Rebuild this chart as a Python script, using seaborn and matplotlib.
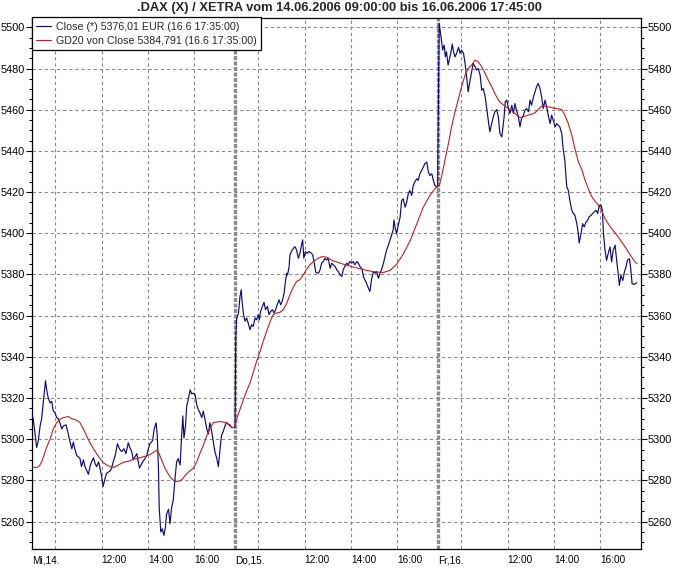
import matplotlib
matplotlib.use("Agg")
import matplotlib.pyplot as plt
import pandas as pd
import seaborn as sns
from matplotlib.ticker import MultipleLocator

# ---------------- texts ----------------
title = ".DAX (X) / XETRA vom 14.06.2006 09:00:00 bis 16.06.2006 17:45:00"
day_labels = ["Mi,14.", "Do,15.", "Fr,16."]
hour_labels = ["12:00", "14:00", "16:00"]
label_hours = [12, 14, 16]
grid_hours = [10, 12, 14, 16]
open_hour = 9.0
session_hours = 8.75          # 09:00 - 17:45
close_label = "Close (*) 5376,01 EUR (16.6 17:35:00)"
gd_label = "GD20 von Close 5384,791 (16.6 17:35:00)"

# ---------------- Close, minutes after 09:00 ----------------
mi14_min = [0, 3, 8, 12, 16, 21, 25, 29, 35, 38,
            42, 47, 51, 55, 59, 64, 68, 72, 77, 81,
            88, 92, 98, 103, 107, 111, 116, 120, 124, 128,
            133, 137, 141, 146, 150, 154, 159, 163, 167, 172,
            176, 180, 184, 189, 193, 202, 206, 210, 215, 221,
            226, 232, 238, 243, 249, 253, 258, 262, 266, 271,
            278, 284, 290, 297, 301, 305, 312, 316, 321, 324,
            327, 329, 333, 337, 341, 345, 348, 353, 357, 361,
            365, 370, 374, 378, 383, 387, 390, 393, 397, 400,
            404, 409, 413, 417, 422, 426, 430, 434, 439, 443,
            447, 452, 456, 460, 465, 469, 473, 478, 482, 486,
            490, 495, 499, 503, 508, 512, 516, 521]
mi14_close = [5312, 5310, 5302.5, 5296, 5299, 5306.5, 5310, 5317.6, 5328.4, 5324,
              5320, 5317.6, 5318.4, 5313.7, 5313, 5310.5, 5310, 5308, 5305, 5306.5,
              5307, 5304, 5299, 5295.4, 5298.6, 5295, 5292, 5291.4, 5290.6, 5286.7,
              5290, 5286.7, 5285, 5283, 5286.7, 5289, 5291, 5288.3, 5286.7, 5289,
              5285.9, 5282, 5277.1, 5281, 5283.5, 5284.6, 5286, 5289, 5292, 5297.8,
              5295.4, 5294, 5295.4, 5293, 5298.3, 5296, 5294, 5290, 5291.4, 5293,
              5286, 5288.3, 5290, 5292.2, 5295.4, 5297.8, 5299.4, 5305, 5308, 5301.7,
              5286, 5266.8, 5255, 5256.5, 5253.3, 5257.3, 5263.6, 5266, 5259, 5266.8,
              5270, 5281.1, 5289, 5290.6, 5287.5, 5301.7, 5311.3, 5300.6, 5306.5, 5316,
              5319.2, 5324, 5322, 5322.4, 5321.6, 5316.8, 5314.4, 5313, 5310.5, 5313.7,
              5310, 5305, 5302.5, 5308, 5303.4, 5298.6, 5294, 5290.6, 5286.7, 5294.6,
              5301.7, 5304, 5306.5, 5308, 5307.3, 5307, 5305.7, 5305.7]

do15_min = [0, 2, 4, 9, 13, 16, 18, 22, 26, 30,
            34, 39, 43, 47, 52, 56, 60, 63, 66, 71,
            75, 79, 84, 88, 92, 97, 101, 105, 109, 114,
            118, 122, 127, 131, 134, 136, 140, 142, 147, 151,
            155, 159, 164, 168, 172, 175, 178, 182, 187, 191,
            196, 201, 205, 209, 216, 220, 224, 228, 233, 237,
            241, 246, 250, 254, 259, 263, 267, 272, 276, 280,
            284, 289, 293, 297, 302, 306, 310, 315, 319, 323,
            328, 332, 336, 340, 345, 349, 353, 358, 362, 366,
            371, 375, 379, 384, 388, 392, 397, 401, 405, 409,
            411, 415, 418, 422, 427, 431, 435, 440, 444, 448,
            452, 457, 461, 465, 470, 474, 478, 483, 487, 491,
            496, 500, 504, 509, 513, 517, 522, 524]
do15_close = [5305.6, 5348.4, 5358, 5361.3, 5369.4, 5372.6, 5367.7, 5360.5, 5357.3, 5358.9,
              5356.5, 5353.2, 5355.6, 5354.8, 5358.9, 5358, 5360.5, 5358, 5362, 5364.5,
              5366.5, 5362.9, 5364.5, 5360.5, 5362, 5362.9, 5361.3, 5362.9, 5365.3, 5367.7,
              5365.3, 5367, 5371, 5377.4, 5380.6, 5379.8, 5383.9, 5389.5, 5391.6, 5392.7,
              5393.5, 5392, 5387.9, 5390.3, 5394.4, 5396.8, 5387.9, 5391.1, 5390.3, 5391.1,
              5390.6, 5389.5, 5385.5, 5381, 5380.6, 5382.3, 5385.5, 5386.3, 5387.9, 5387,
              5387.9, 5383, 5385.5, 5384.7, 5383.9, 5382.3, 5381.5, 5379.8, 5379, 5382.3,
              5383.9, 5385.5, 5384.7, 5386.3, 5385.5, 5386.3, 5384.7, 5386.3, 5385.5, 5383.9,
              5383, 5379, 5377.4, 5375.8, 5373.4, 5371.8, 5377.4, 5381.5, 5380.6, 5381.5,
              5378.2, 5380.6, 5382.3, 5385.5, 5388.7, 5391.9, 5394.4, 5396.8, 5399.2, 5401.6,
              5406.5, 5402, 5399.7, 5403.7, 5407.8, 5416, 5416.7, 5412.7, 5415.1, 5419.2,
              5420.8, 5418.4, 5423.3, 5424.9, 5426.5, 5425.7, 5428.9, 5430.6, 5432.2, 5433.8,
              5434.6, 5429.8, 5428.1, 5428.9, 5425.7, 5423.3, 5422.4, 5423]

fr16_min = [3, 9, 12, 16, 19, 22, 26, 29, 33, 37,
            40, 44, 48, 53, 57, 61, 66, 70, 74, 78,
            83, 87, 91, 96, 100, 104, 109, 113, 117, 122,
            126, 130, 134, 139, 143, 147, 152, 156, 160, 165,
            167, 171, 174, 178, 182, 186, 191, 195, 199, 203,
            208, 212, 216, 221, 225, 229, 234, 238, 242, 247,
            251, 255, 259, 264, 268, 272, 277, 281, 285, 290,
            294, 298, 303, 307, 311, 315, 320, 324, 328, 333,
            337, 341, 346, 350, 354, 359, 363, 365, 370, 374,
            378, 383, 387, 391, 396, 400, 404, 409, 413, 417,
            422, 425, 428, 432, 436, 440, 445, 449, 453, 458,
            462, 466, 469, 473, 478, 482, 486, 490, 495, 498,
            502, 507, 514]
fr16_close = [5502, 5493.8, 5489, 5491.4, 5485.7, 5488.2, 5481.7, 5484.1, 5487.4, 5491.9,
              5488.2, 5485.7, 5487.4, 5490.3, 5487.4, 5489, 5487.4, 5482.5, 5476, 5468.7,
              5474.4, 5478.4, 5482.5, 5480.9, 5479.3, 5480.1, 5476.8, 5469.5, 5470.3, 5466.3,
              5460.6, 5454.9, 5449.3, 5453.3, 5456.6, 5459, 5460.1, 5456.6, 5448.5, 5446.8,
              5450.1, 5456.6, 5463.9, 5464.7, 5460.6, 5458.2, 5462.2, 5458.2, 5463, 5459.8,
              5456.6, 5451.7, 5455.8, 5457.4, 5459.8, 5460.6, 5459, 5464.7, 5462.2, 5466.3,
              5468.7, 5471.2, 5472.8, 5470.3, 5466.3, 5460.6, 5464.7, 5461.4, 5457.4, 5453.3,
              5457.4, 5454.9, 5451.7, 5453.3, 5452.5, 5451.7, 5448.5, 5440.4, 5435.5, 5422.5,
              5420.9, 5416, 5411.2, 5409.6, 5408.8, 5404.7, 5399.8, 5395.3, 5399.8, 5404.7,
              5403.1, 5405.5, 5406.3, 5408, 5408.8, 5409.6, 5410.4, 5411.2, 5409.6, 5413.6,
              5413.6, 5411.2, 5399.8, 5391.7, 5386.9, 5390.1, 5393.4, 5386.1, 5391.7, 5394.2,
              5386.9, 5380.4, 5374.7, 5379.6, 5377.1, 5381.2, 5383.6, 5386.9, 5387.7, 5383.6,
              5375.5, 5375.2, 5376]

# ---------------- GD20 (moving average), minutes after 09:00 ----------------
gd_mi14_min = [0, 12, 19, 25, 31, 38, 47, 55, 64, 72,
               81, 94, 103, 116, 124, 133, 141, 150, 159, 167,
               176, 184, 193, 202, 210, 219, 228, 240, 253, 262,
               279, 297, 309, 322, 327, 335, 344, 353, 361, 370,
               378, 387, 396, 404, 417, 426, 434, 443, 452, 460,
               469, 486, 503, 516, 521]
gd_mi14 = [5286.3, 5286.3, 5287, 5289, 5292.2, 5296.2, 5300.2, 5305, 5308.1, 5309.7,
           5310.5, 5311, 5310, 5309.2, 5308.1, 5305, 5301.7, 5298.3, 5295.4, 5293,
           5290.6, 5288.7, 5287.5, 5286.7, 5286.3, 5287, 5288, 5289, 5289.5, 5290.3,
           5291, 5292, 5293, 5294.6, 5293.8, 5290, 5285.9, 5283, 5280.8, 5279.5,
           5279.5, 5280.3, 5282.4, 5284, 5285.9, 5289, 5293, 5297, 5301.7, 5305,
           5308.1, 5308.6, 5308.1, 5305.7, 5305.7]

gd_do15_min = [0, 4, 13, 22, 30, 39, 47, 56, 65, 73,
               82, 91, 99, 108, 116, 125, 134, 142, 151, 159,
               168, 177, 185, 194, 203, 211, 220, 228, 237, 246,
               254, 263, 272, 280, 289, 297, 306, 315, 323, 332,
               340, 349, 358, 366, 384, 401, 418, 435, 453, 470,
               487, 504, 517, 524]
gd_do15 = [5305.6, 5309.7, 5314.5, 5319.4, 5323.4, 5327.4, 5332.3, 5337.9, 5342.7, 5347.6,
           5352.4, 5357.3, 5360.5, 5361.3, 5361.6, 5362.9, 5366.1, 5370.2, 5373.9, 5376.6,
           5377.5, 5380, 5382.5, 5384.8, 5386.3, 5387.4, 5388.4, 5388.7, 5388.4, 5387.4,
           5386.6, 5386.1, 5385.5, 5385, 5384.5, 5384, 5383.6, 5383.2, 5382.8, 5382.4,
           5382, 5381.7, 5381.4, 5381.2, 5381, 5382, 5385, 5389.9, 5396.4, 5404.6,
           5412.7, 5418.4, 5421.6, 5422.8]

gd_fr16_min = [3, 9, 18, 27, 35, 44, 53, 61, 70, 78,
               87, 96, 104, 113, 122, 130, 139, 147, 156, 165,
               173, 182, 191, 199, 208, 216, 225, 234, 242, 251,
               259, 268, 277, 285, 294, 303, 311, 320, 328, 337,
               346, 354, 363, 372, 380, 389, 397, 406, 415, 423,
               432, 440, 449, 458, 466, 475, 484, 492, 501, 509,
               515]
gd_fr16 = [5422.9, 5427.4, 5435.5, 5443.6, 5451.7, 5459, 5465.5, 5471.2, 5476.8, 5480.1,
           5481.7, 5484.1, 5483.3, 5480.9, 5477.6, 5474.4, 5471.2, 5467.9, 5464.7, 5463,
           5461.8, 5460.6, 5459.5, 5458.2, 5456.6, 5456.2, 5456.9, 5457.4, 5457.9, 5458.5,
           5460.1, 5461.8, 5461.8, 5461.4, 5461.1, 5460.6, 5460.5, 5460.1, 5457.4, 5453.3,
           5447.7, 5441.2, 5434.7, 5431, 5426, 5421.5, 5418, 5415.6, 5413.6, 5411.2,
           5407.1, 5404.7, 5402.3, 5400.3, 5398.2, 5395.8, 5393.4, 5390.9, 5388.5, 5386.1,
           5385.3]


def build(mins_per_day, vals_per_day):
    t, v = [], []
    for d, (mins, vals) in enumerate(zip(mins_per_day, vals_per_day)):
        t += [d * session_hours + m / 60.0 for m in mins]
        v += list(vals)
    return pd.DataFrame({"t": t, "value": v})


close_df = build([mi14_min, do15_min, fr16_min], [mi14_close, do15_close, fr16_close])
gd_df = build([gd_mi14_min, gd_do15_min, gd_fr16_min], [gd_mi14, gd_do15, gd_fr16])

sns.set_theme(style="white")
plt.rcParams["font.family"] = ["Liberation Sans", "DejaVu Sans"]

W, H = 674, 568
fig = plt.figure(figsize=(W / 100, H / 100), dpi=100)
fig.patch.set_facecolor("white")
ax = fig.add_axes([32 / W, 1 - 549 / H, (641 - 32) / W, (549 - 17.5) / H])
ax.set_facecolor("white")

BLUE = "#0c0c78"
RED = "#c42020"
GRID = "#8a8a8a"

sns.lineplot(data=close_df, x="t", y="value", sort=False, estimator=None,
             color=BLUE, linewidth=0.85, ax=ax, label=close_label, zorder=3)
sns.lineplot(data=gd_df, x="t", y="value", sort=False, estimator=None,
             color=RED, linewidth=0.8, ax=ax, label=gd_label, zorder=4)

ax.set_xlim(0, 3 * session_hours)
ax.set_ylim(5246.7, 5504.8)
ax.set_xlabel("")
ax.set_ylabel("")

# vertical grid and day separators
day_starts = [d * session_hours for d in range(len(day_labels))]
for d0 in day_starts:
    for h in grid_hours:
        ax.axvline(d0 + h - open_hour, color=GRID, linestyle=(0, (3, 2.5)),
                   linewidth=0.8, zorder=1)
for d0 in day_starts[1:]:
    ax.axvline(d0, color="#8c8c8c", linestyle=(0, (1.2, 0.45)), linewidth=2.4, zorder=1)

# horizontal grid
ax.yaxis.set_major_locator(MultipleLocator(20))
ax.yaxis.set_minor_locator(MultipleLocator(5))
ax.grid(axis="y", which="major", color=GRID, linestyle=(0, (3, 2.5)), linewidth=0.8, zorder=1)
ax.grid(axis="x", visible=False)
ax.set_axisbelow(True)

ax.tick_params(axis="y", which="major", direction="out", length=4, width=0.8,
               left=True, right=True, labelleft=True, labelright=True,
               labelsize=7.8, pad=1, colors="black")
ax.tick_params(axis="y", which="minor", direction="out", length=2.5, width=0.8,
               left=True, right=True, colors="black")

# x labels: day names at session start, hour labels left-aligned
xt, xl = [], []
for d0, dl in zip(day_starts, day_labels):
    xt.append(d0)
    xl.append(dl)
    for h, hl in zip(label_hours, hour_labels):
        xt.append(d0 + h - open_hour)
        xl.append(hl)
ax.set_xticks(xt)
ax.set_xticklabels(xl, ha="left")
ax.set_xticks(day_starts, minor=True)
ax.tick_params(axis="x", which="major", length=0, pad=4.5, labelsize=7.2, colors="black")
ax.tick_params(axis="x", which="minor", direction="out", length=3, width=2.4,
               bottom=True, colors="black")

for sp in ax.spines.values():
    sp.set_visible(True)
    sp.set_color("black")
    sp.set_linewidth(0.9)

leg = ax.legend(loc="upper left", bbox_to_anchor=(0, 1), borderaxespad=0,
                fancybox=False, framealpha=1, edgecolor="black",
                handlelength=1.4, handletextpad=0.45, borderpad=0.4,
                labelspacing=0.35, prop={"size": 7.7})
leg.get_frame().set_linewidth(0.9)
leg.set_zorder(10)

fig.text(339 / W, 1 - 8.5 / H, title, ha="center", va="center",
         fontsize=9.3, fontweight="bold")

fig.savefig("out.png", dpi=100, facecolor="white")
